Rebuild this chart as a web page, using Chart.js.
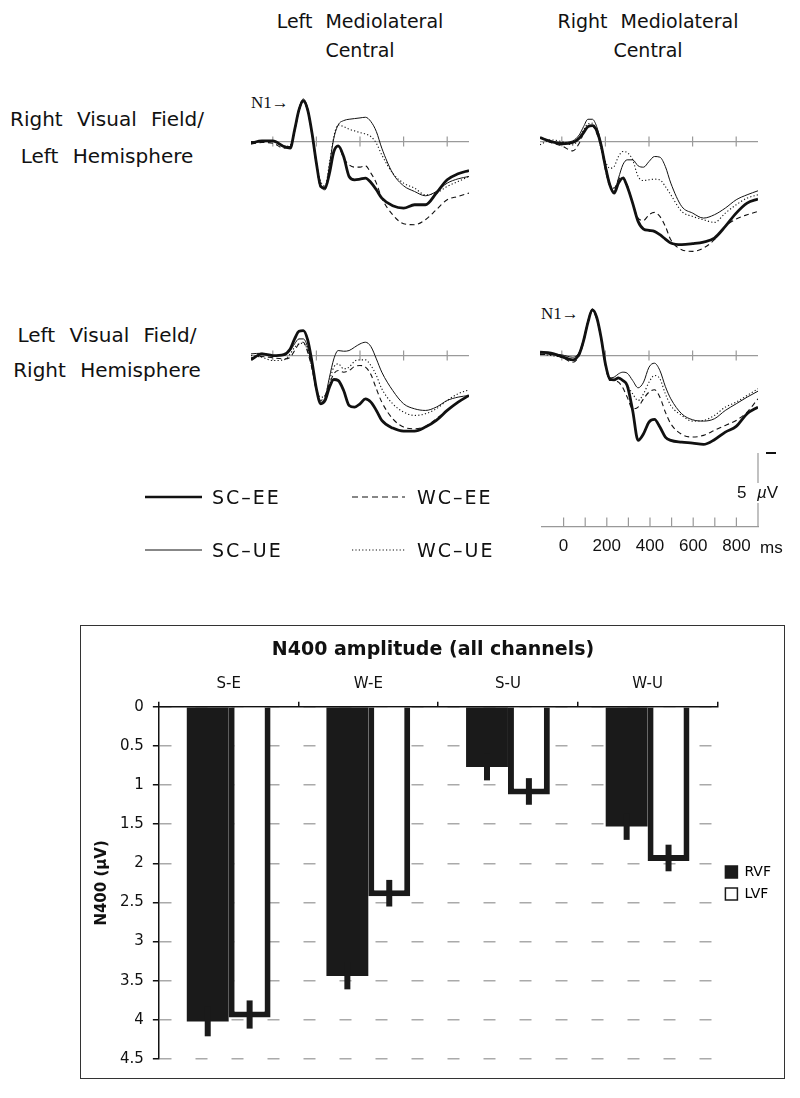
<!DOCTYPE html>
<html>
<head>
<meta charset="utf-8">
<script src="https://cdn.jsdelivr.net/npm/chart.js"></script>
<style>
  body { margin: 0; background: #fff; }
  #page { position: relative; width: 800px; height: 1098px; overflow: hidden; background: #fff;
          font-family: "DejaVu Sans", sans-serif; color: #111; }
  canvas { position: absolute; }
  .head { position: absolute; font-size: 19px; line-height: 29px; word-spacing: 7px; text-align: center; white-space: nowrap; }
  .row { position: absolute; left: 0; width: 214px; font-size: 20px; word-spacing: 8px; text-align: center; white-space: nowrap; }
  .key { position: absolute; font-size: 19px; letter-spacing: 2px; line-height: 22px; white-space: nowrap; }
  .n1 { position: absolute; font-family: "Liberation Serif", serif; font-size: 17px; line-height: 20px; }
  .sc { position: absolute; font-family: "Liberation Sans", sans-serif; font-size: 17px; line-height: 20px; }
  #frame { position: absolute; left: 80px; top: 625px; width: 705px; height: 454px; border: 1.5px solid #333; box-sizing: border-box; }
</style>
</head>
<body>
<div id="page">
  <div class="head" style="left:210px; width:300px; top:7px;">Left Mediolateral<br>Central</div>
  <div class="head" style="left:498px; width:300px; top:7px;">Right Mediolateral<br>Central</div>

  <div class="row" style="top:101px; line-height:37px;">Right Visual Field/<br>Left Hemisphere</div>
  <div class="row" style="top:318px; line-height:35px;">Left Visual Field/<br>Right Hemisphere</div>

  <div class="n1" style="left:251px; top:93px;">N1&rarr;</div>
  <div class="n1" style="left:541px; top:304px;">N1&rarr;</div>

  <canvas id="pTL" width="218" height="183" style="left:251px; top:75px;"></canvas>
  <canvas id="pTR" width="218" height="183" style="left:540px; top:75px;"></canvas>
  <canvas id="pBL" width="218" height="183" style="left:251px; top:289px;"></canvas>
  <canvas id="pBR" width="218" height="183" style="left:540px; top:289px;"></canvas>

  <svg width="800" height="600" style="position:absolute; left:0; top:0;">
    <line x1="145" y1="497" x2="202" y2="497" stroke="#111" stroke-width="2.6"/>
    <line x1="145" y1="550" x2="202" y2="550" stroke="#111" stroke-width="1"/>
    <line x1="352" y1="497" x2="405" y2="497" stroke="#111" stroke-width="1.1" stroke-dasharray="6 4"/>
    <line x1="352" y1="550" x2="405" y2="550" stroke="#111" stroke-width="1.1" stroke-dasharray="1.2 2.2"/>
  </svg>
  <div class="key" style="left:212px; top:486px;">SC&ndash;EE</div>
  <div class="key" style="left:212px; top:539px;">SC&ndash;UE</div>
  <div class="key" style="left:417px; top:486px;">WC&ndash;EE</div>
  <div class="key" style="left:417px; top:539px;">WC&ndash;UE</div>

  <canvas id="scale" width="230" height="106" style="left:540px; top:453px;"></canvas>
  <div class="sc" style="left:737px; top:483px;">5</div>
  <div class="sc" style="left:756px; top:483px; background:#fff; padding:0 1px;"><i>&micro;</i>V</div>
  <div class="sc" style="left:760px; top:538px;">ms</div>
  <div style="position:absolute; left:766px; top:452px; width:10px; height:2px; background:#111;"></div>

  <div id="frame"></div>
  <canvas id="bars" width="701" height="450" style="left:82px; top:627px;"></canvas>
</div>

<script>
// ERP sample times (ms)
const times = [-100, -50, 0, 50, 80, 100, 120, 140, 160, 180, 200, 220, 240, 260, 280, 300,
               325, 350, 375, 400, 425, 450, 475, 500, 550, 600, 650, 700, 750, 800, 850, 900];
const panelTicks = [0, 200, 400, 600, 800];
const scaleTicks = [0, 100, 200, 300, 400, 500, 600, 700, 800];
const scaleLabels = [0, 200, 400, 600, 800];
const seriesNames = ['SC-EE', 'SC-UE', 'WC-EE', 'WC-UE'];

// amplitudes in microvolts, negative plotted up
// Left mediolateral central, right visual field
const leftRVF_SCEE = [0.1, -0.04, -0.04, 0.3, 0.4, -0.7, -1.9, -2.46, -1.9, -0.5, 1.3, 2.7, 2.8, 1.9, 0.6, 0.26,
                      0.9, 2.1, 2.3, 2.26, 2.2, 2.46, 2.9, 3.4, 3.86, 4.0, 3.8, 3.8, 3.1, 2.3, 1.94, 1.74];
const leftRVF_SCUE = [0, 0.02, -0.04, 0.26, 0.3, -0.7, -2.0, -2.56, -2.0, -0.5, 1.2, 2.66, 2.9, 1.4, -0.2, -1.0,
                      -1.26, -1.34, -1.38, -1.42, -1.46, -1.2, -0.6, 0.4, 1.9, 2.66, 3.0, 3.26, 3.0, 2.5, 2.24, 2.1];
const leftRVF_WCEE = [0.14, 0.06, 0.1, 0.4, 0.3, -0.6, -1.86, -2.4, -1.84, -0.4, 1.4, 2.74, 2.74, 1.8, 0.6, 0.3,
                      1.0, 1.4, 1.54, 1.54, 1.46, 1.9, 2.5, 3.4, 4.4, 4.94, 5.0, 4.7, 4.1, 3.5, 3.3, 3.1];
const leftRVF_WCUE = [0.06, 0, 0, 0.3, 0.2, -0.6, -1.8, -2.4, -1.8, -0.4, 1.3, 2.4, 2.66, 1.3, -0.3, -1.0,
                      -0.9, -0.74, -0.64, -0.54, -0.46, -0.3, 0.1, 0.8, 1.9, 2.5, 2.8, 3.2, 3.1, 2.7, 2.4, 2.1];

// Right mediolateral central, right visual field
const rightRVF_SCEE = [-0.24, 0, 0.14, 0.06, -0.2, -0.54, -0.9, -0.96, -0.66, 0.2, 1.5, 2.6, 3.1, 2.5, 2.2, 2.7,
                       3.7, 4.8, 5.26, 5.34, 5.4, 5.6, 5.86, 6.1, 6.2, 6.14, 6.04, 5.8, 5.1, 4.3, 3.7, 3.46];
const rightRVF_SCUE = [-0.24, -0.04, 0.06, -0.04, -0.4, -0.9, -1.34, -1.34, -0.9, 0.1, 1.4, 2.5, 3.0, 2.2, 1.4, 1.1,
                       1.1, 1.46, 1.54, 1.2, 0.9, 0.94, 1.5, 2.5, 3.9, 4.3, 4.6, 4.4, 4.0, 3.5, 3.2, 2.96];
const rightRVF_WCEE = [-0.24, 0.06, 0.26, 0.56, 0.1, -0.5, -0.9, -0.94, -0.5, 0.3, 1.7, 2.66, 2.8, 2.3, 2.1, 2.6,
                       3.7, 4.6, 4.74, 4.4, 4.26, 4.5, 5.1, 5.9, 6.5, 6.6, 6.4, 5.9, 5.1, 4.66, 4.4, 4.2];
const rightRVF_WCUE = [0.2, -0.1, 0, 0.2, -0.2, -0.7, -1.06, -1.1, -0.6, 0.4, 1.2, 1.6, 1.5, 0.9, 0.6, 0.66,
                       1.1, 2.1, 2.34, 2.3, 2.26, 2.3, 2.7, 3.2, 4.2, 4.5, 4.7, 4.86, 4.3, 3.8, 3.4, 3.2];

// Left mediolateral central, left visual field
const leftLVF_SCEE = [0.26, -0.1, 0, -0.06, -0.4, -1.0, -1.46, -1.5, -0.94, 0.4, 2.0, 2.9, 2.7, 1.9, 1.44, 1.5,
                      2.1, 3.0, 3.1, 2.9, 2.6, 2.8, 3.3, 3.9, 4.36, 4.54, 4.54, 4.3, 3.9, 3.3, 2.8, 2.4];
const leftLVF_SCUE = [-0.1, -0.14, 0, 0, -0.3, -0.7, -1.0, -1.0, -0.5, 0.7, 2.1, 2.8, 2.5, 1.3, 0.2, -0.3,
                      -0.26, -0.3, -0.5, -0.7, -0.8, -0.54, 0.2, 1.0, 2.1, 2.9, 3.2, 3.3, 3.1, 2.7, 2.5, 2.4];
const leftLVF_WCEE = [0.14, 0.06, 0.14, 0.2, 0.1, -0.3, -0.7, -0.8, -0.2, 0.8, 2.1, 2.7, 2.4, 1.7, 1.1, 0.9,
                      1.0, 0.9, 0.66, 0.6, 0.7, 1.14, 2.0, 2.8, 3.8, 4.3, 4.4, 4.26, 3.8, 3.3, 2.8, 2.4];
const leftLVF_WCUE = [0, 0.1, 0.3, 0.26, -0.1, -0.5, -0.7, -0.74, -0.3, 0.7, 2.0, 2.5, 2.4, 1.5, 0.7, 0.5,
                      0.8, 0.7, 0.34, 0.26, 0.26, 0.6, 1.2, 2.0, 2.9, 3.4, 3.6, 3.5, 3.2, 2.7, 2.3, 2.06];

// Right mediolateral central, left visual field
const rightLVF_SCEE = [-0.2, -0.14, 0.06, 0.26, -0.1, -0.9, -2.0, -2.74, -2.3, -1.1, 0.5, 1.4, 1.46, 1.34, 1.5, 1.8,
                       3.3, 5.1, 4.7, 4.0, 3.84, 4.3, 4.9, 5.1, 5.2, 5.26, 5.34, 5.06, 4.6, 4.26, 3.5, 3.1];
const rightLVF_SCUE = [-0.1, -0.1, -0.04, 0.1, -0.2, -1.0, -2.1, -2.8, -2.34, -1.1, 0.5, 1.34, 1.3, 1.1, 1.0, 1.06,
                       1.5, 1.94, 1.6, 0.7, 0.46, 0.9, 1.86, 2.6, 3.5, 3.86, 3.94, 3.8, 3.3, 2.9, 2.5, 2.14];
const rightLVF_WCEE = [-0.06, -0.06, 0.1, 0.4, 0, -0.8, -1.94, -2.66, -2.2, -1.0, 0.6, 1.5, 1.5, 1.6, 1.94, 2.5,
                       3.2, 3.1, 2.6, 2.2, 2.06, 2.5, 3.4, 4.1, 4.74, 4.9, 4.8, 4.5, 4.2, 3.9, 3.4, 2.6];
const rightLVF_WCUE = [-0.1, 0, 0.1, 0.3, -0.1, -0.9, -2.0, -2.7, -2.26, -1.06, 0.54, 1.46, 1.46, 1.4, 1.46, 1.8,
                       2.3, 2.7, 2.3, 1.6, 1.2, 1.4, 2.3, 3.0, 3.6, 3.94, 3.9, 3.6, 3.1, 2.8, 2.4, 2.0];

// N400 bar chart
const groups = ['S-E', 'W-E', 'S-U', 'W-U'];
const rvfVals = [4.02, 3.44, 0.77, 1.53];
const lvfVals = [3.97, 2.42, 1.12, 1.97];
const rvfErr = [0.19, 0.17, 0.17, 0.17];
const lvfErr = [0.18, 0.17, 0.17, 0.17];

Chart.defaults.font.family = 'DejaVu Sans';
Chart.defaults.color = '#111';

// line looks for the 4 conditions
const lineStyles = [
  { width: 2.8, dash: [] },
  { width: 1, dash: [] },
  { width: 1.1, dash: [5, 3.5] },
  { width: 1.1, dash: [1.2, 2.2] }
];

// grey zero line with time ticks
const baselinePlugin = {
  id: 'baseline',
  beforeDatasetsDraw(chart) {
    const { ctx, chartArea, scales: { x, y } } = chart;
    const y0 = y.getPixelForValue(0);
    ctx.save();
    ctx.strokeStyle = '#9a9a9a';
    ctx.lineWidth = 1.2;
    ctx.beginPath();
    ctx.moveTo(chartArea.left, y0);
    ctx.lineTo(chartArea.right, y0);
    panelTicks.forEach(t => {
      const px = x.getPixelForValue(t);
      ctx.moveTo(px, y0 - 5);
      ctx.lineTo(px, y0 + 5);
    });
    ctx.stroke();
    ctx.restore();
  }
};

function drawPanel(id, series) {
  new Chart(document.getElementById(id), {
    type: 'line',
    data: {
      datasets: series.map((vals, k) => ({
        label: seriesNames[k],
        data: vals.map((v, i) => ({ x: times[i], y: v })),
        borderColor: '#111',
        borderWidth: lineStyles[k].width,
        borderDash: lineStyles[k].dash,
        pointRadius: 0,
        fill: false,
        cubicInterpolationMode: 'monotone'
      }))
    },
    options: {
      responsive: false,
      animation: false,
      events: [],
      layout: { padding: 0 },
      plugins: { legend: { display: false }, tooltip: { enabled: false } },
      scales: {
        x: { type: 'linear', min: -100, max: 900, display: false },
        y: { min: -4, max: 7, reverse: true, display: false }
      }
    },
    plugins: [baselinePlugin]
  });
}

drawPanel('pTL', [leftRVF_SCEE, leftRVF_SCUE, leftRVF_WCEE, leftRVF_WCUE]);
drawPanel('pTR', [rightRVF_SCEE, rightRVF_SCUE, rightRVF_WCEE, rightRVF_WCUE]);
drawPanel('pBL', [leftLVF_SCEE, leftLVF_SCUE, leftLVF_WCEE, leftLVF_WCUE]);
drawPanel('pBR', [rightLVF_SCEE, rightLVF_SCUE, rightLVF_WCEE, rightLVF_WCUE]);

// time axis + 5 uV calibration bar
const scaleBarPlugin = {
  id: 'scaleBar',
  afterDraw(chart) {
    const { ctx, chartArea, scales: { x, y } } = chart;
    const base = chartArea.bottom;
    ctx.save();
    ctx.strokeStyle = '#999';
    ctx.lineWidth = 1.2;
    ctx.beginPath();
    scaleTicks.forEach(t => {
      const px = x.getPixelForValue(t);
      ctx.moveTo(px, base);
      ctx.lineTo(px, base - 9);
    });
    const xr = x.getPixelForValue(900);
    ctx.moveTo(xr, y.getPixelForValue(0));
    ctx.lineTo(xr, y.getPixelForValue(5));
    ctx.stroke();
    ctx.restore();
  }
};

new Chart(document.getElementById('scale'), {
  type: 'line',
  data: { datasets: [] },
  options: {
    responsive: false,
    animation: false,
    events: [],
    layout: { padding: { left: 0, right: 12, top: 0, bottom: 0 } },
    plugins: { legend: { display: false }, tooltip: { enabled: false } },
    scales: {
      x: {
        type: 'linear', min: -100, max: 900, position: 'bottom',
        ticks: {
          stepSize: 100, autoSkip: false, maxRotation: 0, padding: 2, color: '#111',
          font: { family: 'Liberation Sans', size: 17 },
          callback: v => scaleLabels.includes(v) ? String(v) : ''
        },
        grid: { display: false },
        border: { display: true, color: '#999', width: 1.2 }
      },
      y: { min: 0, max: 5, display: false }
    }
  },
  plugins: [scaleBarPlugin]
});

// error bars, centred on the middle of the bar's end edge
const errorBars = {
  id: 'errorBars',
  afterDatasetsDraw(chart) {
    const { ctx, scales: { y } } = chart;
    const errs = [rvfErr, lvfErr];
    chart.data.datasets.forEach((ds, di) => {
      const meta = chart.getDatasetMeta(di);
      const shift = (ds.borderWidth || 0) / 2;
      meta.data.forEach((bar, i) => {
        const v = ds.data[i];
        const yc = y.getPixelForValue(v) - shift;
        const half = Math.abs(y.getPixelForValue(v + errs[di][i]) - y.getPixelForValue(v));
        ctx.save();
        ctx.strokeStyle = '#1a1a1a';
        ctx.lineWidth = 6;
        ctx.beginPath();
        ctx.moveTo(bar.x, yc - half);
        ctx.lineTo(bar.x, yc + half);
        ctx.stroke();
        ctx.restore();
      });
    });
  }
};

new Chart(document.getElementById('bars'), {
  type: 'bar',
  data: {
    labels: groups,
    datasets: [
      { label: 'RVF', data: rvfVals, backgroundColor: '#1a1a1a', borderWidth: 0,
        categoryPercentage: 0.6, barPercentage: 1.0 },
      { label: 'LVF', data: lvfVals, backgroundColor: '#ffffff', borderColor: '#1a1a1a', borderWidth: 6,
        borderSkipped: 'start', categoryPercentage: 0.6, barPercentage: 1.0 }
    ]
  },
  options: {
    responsive: false,
    animation: false,
    events: [],
    layout: { padding: { left: 3, right: 2, top: 0, bottom: 16 } },
    plugins: {
      title: {
        display: true, text: 'N400 amplitude (all channels)', color: '#111',
        font: { size: 19, weight: 'bold' }, padding: { top: 12, bottom: 4 }
      },
      legend: {
        position: 'right', fullSize: false,
        labels: {
          boxWidth: 12, boxHeight: 12, padding: 8, color: '#111', font: { size: 14 },
          generateLabels: chart => chart.data.datasets.map((ds, i) => ({
            text: ds.label, fillStyle: ds.backgroundColor, strokeStyle: '#1a1a1a',
            lineWidth: 1.5, hidden: false, datasetIndex: i
          }))
        }
      },
      tooltip: { enabled: false }
    },
    scales: {
      x: {
        position: 'top',
        grid: { drawOnChartArea: false, drawTicks: true, tickLength: 5, color: '#111', lineWidth: 1.5 },
        border: { color: '#111', width: 1.5 },
        ticks: { color: '#111', padding: 9, font: { size: 15 } }
      },
      y: {
        reverse: true, min: 0, max: 4.5,
        ticks: { stepSize: 0.5, color: '#111', padding: 9, font: { size: 15 }, callback: v => String(v) },
        grid: { color: '#aaa', lineWidth: 1.5, tickColor: '#111', tickLength: 6, tickWidth: 1.5 },
        border: { color: '#111', width: 1.5, dash: [12, 24] },
        title: {
          display: true, text: 'N400 (\u00b5V)', color: '#111',
          font: { size: 15, weight: 'bold' }, padding: { top: 8, bottom: 0 }
        }
      }
    }
  },
  plugins: [errorBars]
});
</script>
</body>
</html>
